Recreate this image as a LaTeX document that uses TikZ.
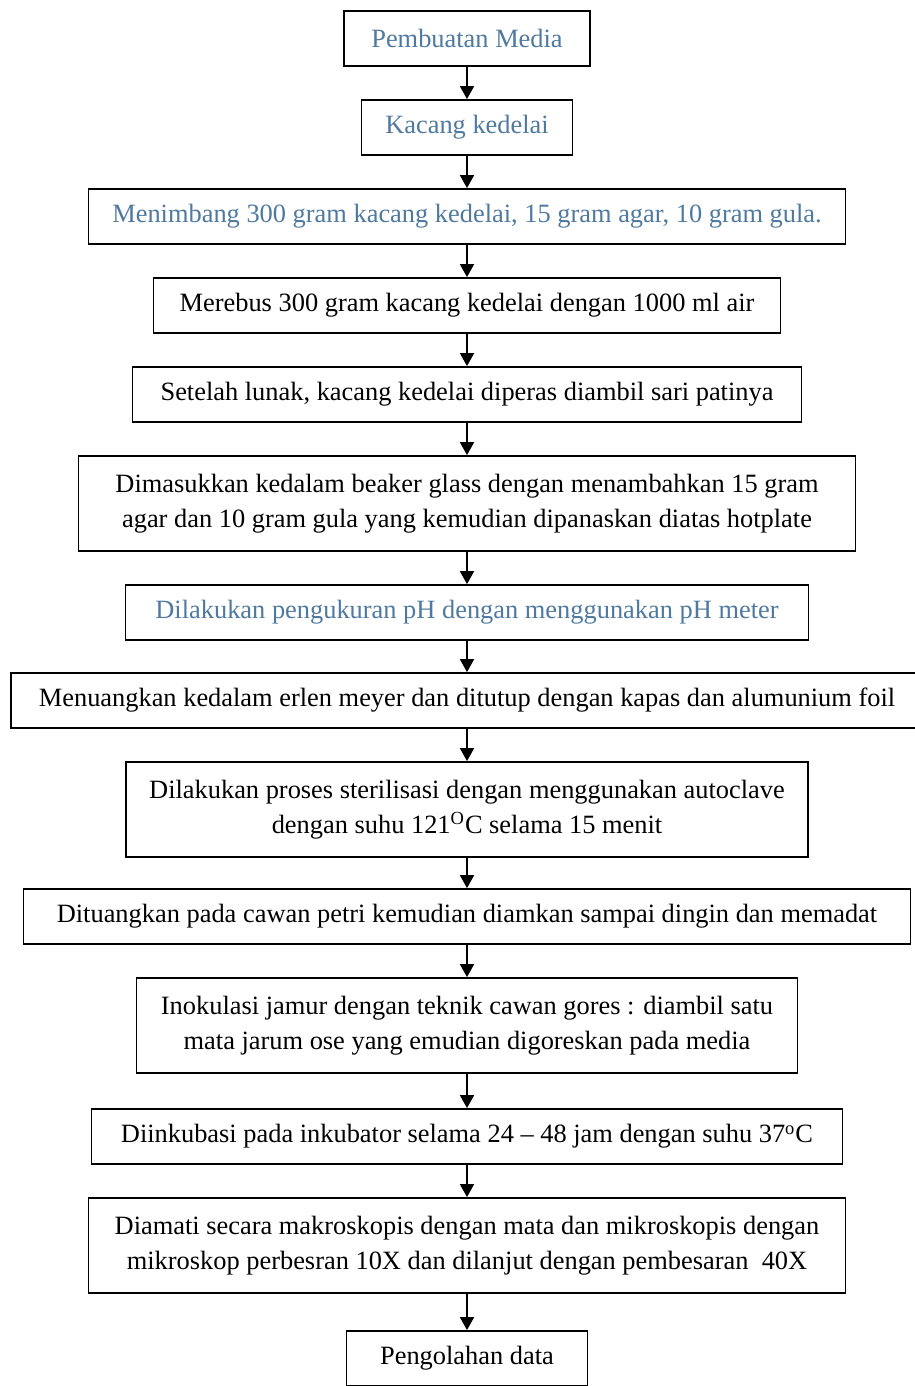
\documentclass[tikz,border=0pt]{standalone}
\usepackage{fontspec}
\setmainfont{Liberation Serif}
\usetikzlibrary{positioning,arrows.meta}
\definecolor{stepblue}{RGB}{79,121,158}
\tikzset{
  stepbox/.style={draw, line width=0.9pt, inner sep=2pt, align=center,
    minimum height=27.5pt, font=\fontsize{13.2}{17.5}\selectfont},
  twoline/.style={stepbox, minimum height=47.5pt},
  bluetext/.style={text=stepblue},
  flow/.style={-{Triangle[length=6.5pt,width=7pt]}, line width=0.9pt}
}

\begin{document}
\begin{tikzpicture}[node distance=16.1pt]
  \useasboundingbox (0,0) rectangle (457.5pt,-693pt);
  % Define nodes
  \node[stepbox, bluetext, minimum width=123pt] (media) at (233.5pt,-19.25pt) {Pembuatan Media};
  \node[stepbox, bluetext, minimum width=105.5pt, below=of media] (kedelai) {Kacang kedelai};
  \node[stepbox, bluetext, minimum width=378.5pt, below=of kedelai] (timbang) {Menimbang 300 gram kacang kedelai, 15 gram agar, 10 gram gula.};
  \node[stepbox, minimum width=313.5pt, below=of timbang] (rebus) {Merebus 300 gram kacang kedelai dengan 1000 ml air};
  \node[stepbox, minimum width=334.5pt, below=of rebus] (peras) {Setelah lunak, kacang kedelai diperas diambil sari patinya};
  \node[twoline, minimum width=388.5pt, below=of peras] (panas) {Dimasukkan kedalam beaker glass dengan menambahkan 15 gram\\ agar dan 10 gram gula yang kemudian dipanaskan diatas hotplate};
  \node[stepbox, bluetext, minimum width=341.5pt, below=of panas] (ph) {Dilakukan pengukuran pH dengan menggunakan pH meter};
  \node[stepbox, minimum width=456pt, below=of ph, yshift=0.5pt] (erlen) {Menuangkan kedalam erlen meyer dan ditutup dengan kapas dan alumunium foil};
  \node[twoline, minimum width=341pt, below=of erlen] (steril) {Dilakukan proses sterilisasi dengan menggunakan autoclave\\ dengan suhu 121\textsuperscript{O}C selama 15 menit};
  \node[stepbox, minimum width=443.5pt, below=of steril, yshift=1pt] (tuang) {Dituangkan pada cawan petri kemudian diamkan sampai dingin dan memadat};
  \node[twoline, minimum width=330.5pt, below=of tuang] (inokulasi) {Inokulasi jamur dengan teknik cawan gores : diambil satu\\ mata jarum ose yang emudian digoreskan pada media};
  \node[stepbox, minimum width=375.5pt, below=of inokulasi, yshift=-1pt] (inkubasi) {Diinkubasi pada inkubator selama 24 -- 48 jam dengan suhu 37\textsuperscript{o}C};
  \node[twoline, minimum width=378.5pt, below=of inkubasi] (amati) {Diamati secara makroskopis dengan mata dan mikroskopis dengan\\ mikroskop perbesran 10X dan dilanjut dengan pembesaran~ 40X};
  \node[stepbox, minimum width=120.5pt, below=of amati, yshift=-2pt] (olah) {Pengolahan data};
  % Connect nodes
  \draw[flow] (media) -- (kedelai);
  \draw[flow] (kedelai) -- (timbang);
  \draw[flow] (timbang) -- (rebus);
  \draw[flow] (rebus) -- (peras);
  \draw[flow] (peras) -- (panas);
  \draw[flow] (panas) -- (ph);
  \draw[flow] (ph) -- (erlen);
  \draw[flow] (erlen) -- (steril);
  \draw[flow] (steril) -- (tuang);
  \draw[flow] (tuang) -- (inokulasi);
  \draw[flow] (inokulasi) -- (inkubasi);
  \draw[flow] (inkubasi) -- (amati);
  \draw[flow] (amati) -- (olah);
\end{tikzpicture}
\end{document}
